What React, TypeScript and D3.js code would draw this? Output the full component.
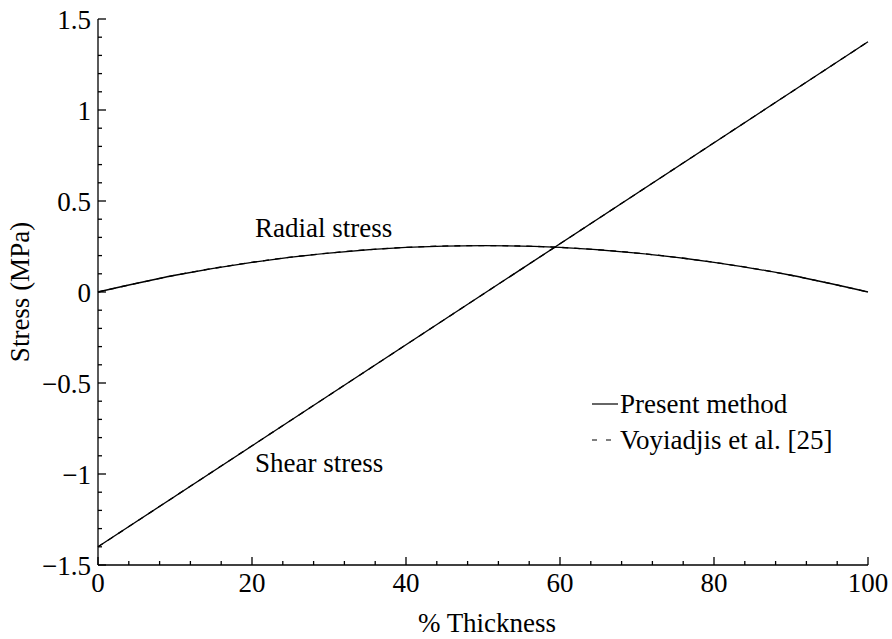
import React from "react";
import * as d3 from "d3";

const thickness = [0, 10, 20, 30, 40, 50, 60, 70, 80, 90, 100];
const radialStress = [0, 0.092, 0.163, 0.214, 0.245, 0.255, 0.245, 0.214, 0.163, 0.092, 0];
const shearThickness = [0, 100];
const shearStress = [-1.4, 1.375];
const xTicks = [0, 20, 40, 60, 80, 100];
const yTicks = [-1.5, -1, -0.5, 0, 0.5, 1, 1.5];
const legendLabels = ["Present method", "Voyiadjis et al. [25]"];

const W = 892, H = 639;
const FONT = "'Liberation Serif', 'DejaVu Serif'";

export default function App() {
  const x = d3.scaleLinear().domain([0, 100]).range([98, 868]);
  const y = d3.scaleLinear().domain([-1.5, 1.5]).range([565, 19]);
  const line = d3.line<[number, number]>().x(d => x(d[0])).y(d => y(d[1]));
  const curve = d3.line<[number, number]>().x(d => x(d[0])).y(d => y(d[1])).curve(d3.curveCatmullRom);
  const radial: [number, number][] = thickness.map((t, i) => [t, radialStress[i]]);
  const shear: [number, number][] = shearThickness.map((t, i) => [t, shearStress[i]]);
  const xMinor = d3.range(0, 101, 4);
  const yMinor = d3.range(-15, 16, 1).map(v => v / 10);
  const fmt = (v: number) => (v < 0 ? "\u2212" + String(-v) : String(v));

  return (
    <svg width={W} height={H} style={{ position: "absolute", left: 0, top: 0, background: "#fff" }}>
      <g fill="none" stroke="#000" strokeWidth={1.3}>
        <path d={curve(radial) || ""} strokeDasharray="6,6" />
        <path d={line(shear) || ""} strokeDasharray="6,6" />
        <path d={curve(radial) || ""} />
        <path d={line(shear) || ""} />
      </g>
      <g stroke="#000" strokeWidth={1.3}>
        <line x1={x(0)} x2={x(100)} y1={y(-1.5)} y2={y(-1.5)} />
        <line x1={x(0)} x2={x(0)} y1={y(-1.5)} y2={y(1.5)} />
        {xMinor.map(v => (
          <line key={"xm" + v} x1={x(v)} x2={x(v)} y1={y(-1.5)} y2={y(-1.5) - (v % 20 === 0 ? 8 : 4)} />
        ))}
        {yMinor.map(v => (
          <line key={"ym" + v} x1={x(0)} x2={x(0) + (Math.abs(Math.round(v * 10)) % 5 === 0 ? 8 : 4)} y1={y(v)} y2={y(v)} />
        ))}
      </g>
      <g style={{ fontFamily: FONT, fontSize: "27px" }} fill="#000">
        {xTicks.map(v => (
          <text key={"xt" + v} x={x(v)} y={y(-1.5) + 27} textAnchor="middle">{fmt(v)}</text>
        ))}
        {yTicks.map(v => (
          <text key={"yt" + v} x={x(0) - 7} y={y(v) + 10} textAnchor="end">{fmt(v)}</text>
        ))}
        <text x={487} y={632} textAnchor="middle">% Thickness</text>
        <text transform={`translate(29,${y(0)}) rotate(-90)`} textAnchor="middle">Stress (MPa)</text>
        <text x={255} y={237}>Radial stress</text>
        <text x={255} y={472}>Shear stress</text>
        <line x1={592} x2={618} y1={404} y2={404} stroke="#000" strokeWidth={1.2} />
        <line x1={592} x2={618} y1={440} y2={440} stroke="#000" strokeWidth={1.2} strokeDasharray="5,9" />
        <text x={620} y={413}>{legendLabels[0]}</text>
        <text x={620} y={449}>{legendLabels[1]}</text>
      </g>
    </svg>
  );
}
